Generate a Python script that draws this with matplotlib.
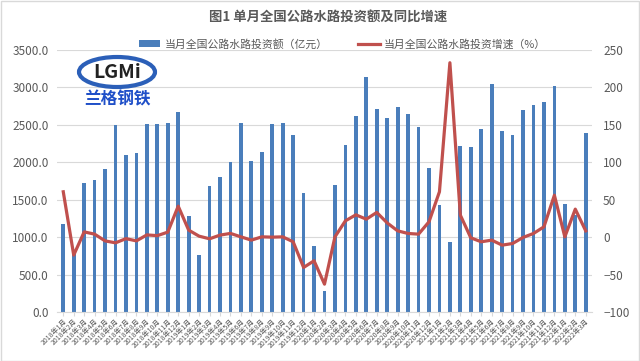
import matplotlib
matplotlib.use("Agg")
import matplotlib.pyplot as plt
from matplotlib.patches import Ellipse
import numpy as np

plt.rcParams['font.family'] = ['Noto Sans CJK SC', 'DejaVu Sans']

months = ([f"2018年{m}月" for m in range(1, 13)] +
          [f"2019年{m}月" for m in range(1, 13)] +
          [f"2020年{m}月" for m in range(1, 13)] +
          [f"2021年{m}月" for m in range(1, 13)] +
          [f"2022年{m}月" for m in range(1, 4)])

investment = [1177, 800, 1720, 1765, 1912, 2500, 2095, 2126, 2509, 2505, 2523, 2674,
              1283, 758, 1685, 1809, 2005, 2523, 2023, 2143, 2505, 2523, 2362, 1587,
              882, 281, 1698, 2233, 2612, 3133, 2706, 2585, 2732, 2647, 2465, 1930,
              1431, 940, 2220, 2206, 2447, 3044, 2416, 2371, 2701, 2768, 2812, 3022,
              1440, 1297, 2393]

growth = [60.6, -24, 7, 4, -5, -7.6, -2, -5, 3, 2, 6.7, 41.4,
          9.4, 1.3, -2.2, 2.7, 5, 0.4, -4, 0.4, 0, 0.4, -6.2, -40.5,
          -31.6, -62.8, 0.4, 21.8, 29.8, 24, 33, 19, 8.4, 4.9, 4, 20.5,
          60.6, 233, 29.4, -0.9, -6.2, -4, -10.7, -8.5, -0.4, 4.9, 13.8, 56,
          0.4, 37.4, 8.4]

title = "图1 单月全国公路水路投资额及同比增速"
bar_label = "当月全国公路水路投资额（亿元）"
line_label = "当月全国公路水路投资增速（%）"

fig = plt.figure(figsize=(6.4, 3.61), dpi=100)
ax = fig.add_axes([57/640, 1-312/361, (592-57)/640, (312-50)/361])
ax2 = ax.twinx()

x = np.arange(len(months))
bars = ax.bar(x, investment, width=0.36, color='#4A7EBB', zorder=2, label=bar_label)
ln, = ax2.plot(x, growth, color='#C0504D', lw=2.3, zorder=3, label=line_label)

ax.set_ylim(0, 3500)
ax.set_yticks(np.arange(0, 3501, 500))
ax.set_yticklabels([f"{v:.1f}" for v in np.arange(0, 3501, 500)])
ax2.set_ylim(-100, 250)
ax2.set_yticks(np.arange(-100, 251, 50))
ax.set_xlim(-0.6, len(months) - 0.4)
ax.set_xticks(x)
ax.set_xticklabels(months, rotation=45, ha='right', rotation_mode='anchor', fontsize=5, color='#595959')

ax.grid(axis='y', color='#D9D9D9', lw=0.8, zorder=0)
ax.set_axisbelow(True)
for a in (ax, ax2):
    for s in a.spines.values():
        s.set_visible(False)
    a.tick_params(axis='y', length=0, labelsize=8.5, colors='#595959')
ax.spines['bottom'].set_visible(True)
ax.spines['bottom'].set_color('#D9D9D9')
ax.tick_params(axis='x', length=3, color='#D9D9D9', pad=1)
ax.tick_params(axis='y', pad=6)
ax2.tick_params(axis='y', pad=8)

fig.text(0.512, 1-18/361, title, ha='center', va='center', fontsize=9.6, fontweight='bold', color='#595959')
fig.legend(handles=[bars, ln], labels=[bar_label, line_label], loc='center',
           bbox_to_anchor=(0.535, 1-44/361), ncol=2, frameon=False, fontsize=7.8,
           labelcolor='#595959', handlelength=2.0, columnspacing=2.8, handletextpad=0.4)

# logo watermark
fig.patches.append(Ellipse((117/640, 1-72/361), 76/640, 30/361, transform=fig.transFigure,
                           facecolor='none', edgecolor='#2B5FB8', lw=3, zorder=5))
fig.text(117/640, 1-72/361, "LGMi", ha='center', va='center', fontsize=14, fontweight='bold',
         color='#222222', zorder=6)
fig.text(117/640, 1-99/361, "兰格钢铁", ha='center', va='center', fontsize=12, fontweight='bold',
         color='#1F4FC8', zorder=6)

fig.patches.append(plt.Rectangle((0.001, 0.001), 0.998, 0.997, transform=fig.transFigure,
                                 facecolor='none', edgecolor='#D9D9D9', lw=1))

fig.savefig("out.png", dpi=100)
